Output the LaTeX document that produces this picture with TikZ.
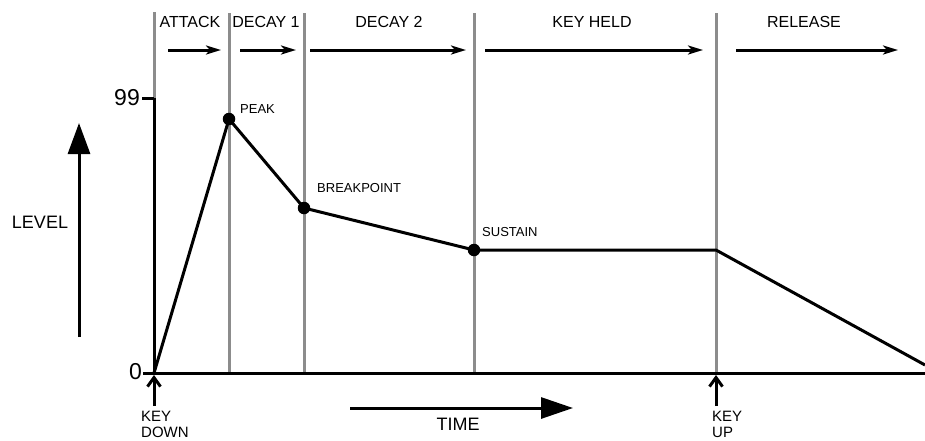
\documentclass[tikz,border=0pt]{standalone}
\usepackage{fontspec}
\setmainfont{Liberation Sans}
\usetikzlibrary{arrows.meta}
\tikzset{
  grayline/.style={draw=black!45, line width=3pt},
  axisline/.style={draw=black, line width=3pt},
  envline/.style={draw=black, line width=3pt, line join=round},
  phasearrow/.style={draw=black, line width=3pt, -{Stealth[length=15pt,width=9pt,inset=4pt]}},
  keyarrow/.style={draw=black, line width=3pt, -{Straight Barb[length=9pt,width=13pt]}},
  bigarrow/.style={draw=black, line width=3pt, -{Triangle[length=31pt,width=22pt]}},
  header/.style={inner sep=0pt, font=\fontsize{16}{19}\selectfont},
  small/.style={inner sep=0pt, anchor=west, font=\fontsize{13}{15}\selectfont},
  big/.style={inner sep=0pt, font=\fontsize{18}{21}\selectfont},
  numlabel/.style={inner sep=0pt, anchor=east, font=\fontsize{23}{26}\selectfont},
  keylabel/.style={inner sep=0pt, anchor=north west, align=left, font=\fontsize{15}{16}\selectfont},
  dot/.style={circle, fill=black, inner sep=0pt, minimum size=12.5pt}
}
\begin{document}
\begin{tikzpicture}[x=1pt, y=-1pt]
\useasboundingbox (0,0) rectangle (925,440);
% key coordinates
\coordinate (start) at (154,373);
\coordinate (top99) at (154,98);
\coordinate (g0top) at (154,12);
\coordinate (peak) at (229,119);
\coordinate (bp) at (304,208);
\coordinate (sus) at (474,250);
\coordinate (kup) at (716,250);
\coordinate (fin) at (925,365);
\coordinate (g1t) at (229,13); \coordinate (g1b) at (229,373);
\coordinate (g2t) at (304,13); \coordinate (g2b) at (304,373);
\coordinate (g3t) at (474,13); \coordinate (g3b) at (474,373);
\coordinate (g4t) at (716,13); \coordinate (g4b) at (716,373);
\coordinate (baseR) at (925,373);
\coordinate (tick99) at (142,98);
\coordinate (tick0) at (143,373);
% gray phase lines
\draw[grayline] (g0top) -- (top99);
\draw[grayline] (g1t) -- (g1b);
\draw[grayline] (g2t) -- (g2b);
\draw[grayline] (g3t) -- (g3b);
\draw[grayline] (g4t) -- (g4b);
% axes
\draw[axisline] (top99) -- (start);
\draw[axisline] (tick0) -- (baseR);
\draw[axisline] (tick99) -- (top99);
% envelope
\draw[envline] (start) -- (peak) -- (bp) -- (sus) -- (kup) -- (fin);
\node[dot] (dpeak) at (peak) {};
\node[dot] (dbp) at (bp) {};
\node[dot] (dsus) at (sus) {};
% axis labels
\node[numlabel] (l99) at (140,98) {99};
\node[numlabel] (l0) at (142,372) {0};
% headers
\node[header] (hA) at (190,22) {ATTACK};
\node[header] (hD1) at (266,22) {DECAY 1};
\node[header] (hD2) at (389,22) {DECAY 2};
\node[header] (hK) at (592,22) {KEY HELD};
\node[header] (hR) at (804,22) {RELEASE};
% header arrows
\coordinate (a1s) at (168,50); \coordinate (a1e) at (221,50);
\coordinate (a2s) at (240,50); \coordinate (a2e) at (296,50);
\coordinate (a3s) at (310,50); \coordinate (a3e) at (466,50);
\coordinate (a4s) at (485,50); \coordinate (a4e) at (703,50);
\coordinate (a5s) at (736,50); \coordinate (a5e) at (898,50);
\draw[phasearrow] (a1s) -- (a1e);
\draw[phasearrow] (a2s) -- (a2e);
\draw[phasearrow] (a3s) -- (a3e);
\draw[phasearrow] (a4s) -- (a4e);
\draw[phasearrow] (a5s) -- (a5e);
% point labels
\node[small] (lpeak) at (240,109) {PEAK};
\node[small] (lbp) at (317,188) {BREAKPOINT};
\node[small] (lsus) at (482,232) {SUSTAIN};
% level arrow
\coordinate (lvs) at (79,337); \coordinate (lve) at (79,123);
\draw[bigarrow] (lvs) -- (lve);
\node[big] (level) at (40,222) {LEVEL};
% time arrow
\coordinate (ts) at (350,408); \coordinate (te) at (573,408);
\draw[bigarrow, -{Triangle[length=32pt,width=21pt]}] (ts) -- (te);
\node[big] (time) at (458,424) {TIME};
% key arrows
\coordinate (kds) at (154,406); \coordinate (kde) at (154,375);
\coordinate (kus) at (716,406); \coordinate (kue) at (716,375);
\draw[keyarrow] (kds) -- (kde);
\draw[keyarrow] (kus) -- (kue);
\node[keylabel] (kdown) at (141,411) {KEY\\DOWN};
\node[keylabel] (kuplabel) at (712,411) {KEY\\UP};
\end{tikzpicture}
\end{document}
